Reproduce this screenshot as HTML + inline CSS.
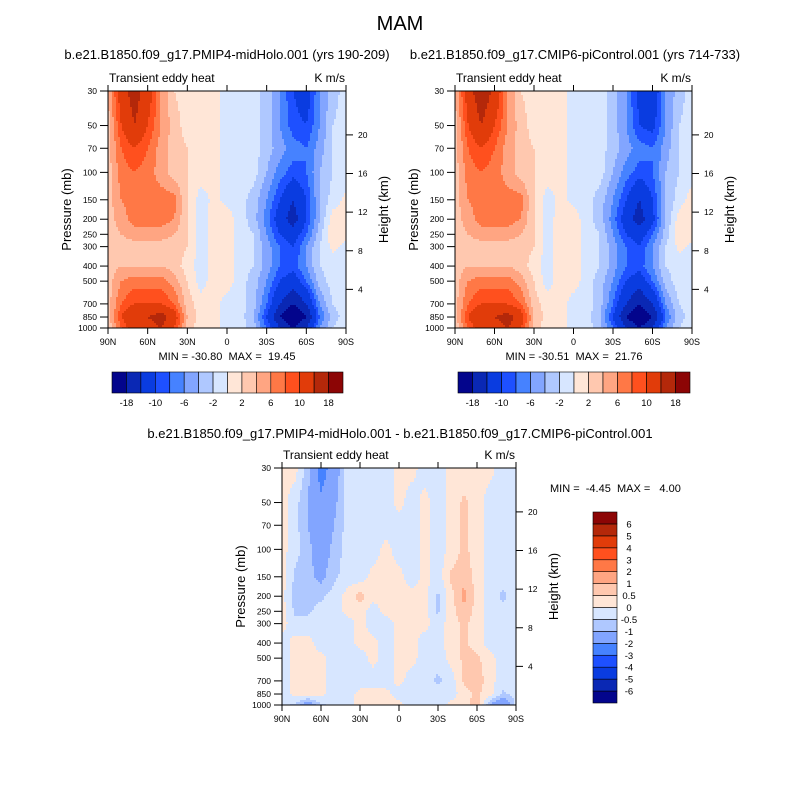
<!DOCTYPE html>
<html><head><meta charset="utf-8">
<style>
body{margin:0;background:#fff;}
svg text{font-family:"Liberation Sans",sans-serif;fill:#000;white-space:pre;}
</style></head>
<body>
<svg id="chart" width="800" height="800" viewBox="0 0 800 800">
<text x="400" y="30" font-size="20" text-anchor="middle">MAM</text>
</svg>
<script>
// ---------- data ----------
const lats = [90,80,70,60,50,40,30,20,10,0,-10,-20,-30,-40,-50,-60,-70,-80,-90];
const pressures = [30,50,70,100,150,200,250,300,400,500,700,850,1000];
const levelsTop = [-18,-14,-10,-8,-6,-4,-2,0,2,4,6,8,10,14,18];
const labelsTop = ["-18","-10","-6","-2","2","6","10","18"];
const levelsDiff = [-6,-5,-4,-3,-2,-1,-0.5,0,0.5,1,2,3,4,5,6];
const labelsDiff = ["-6","-5","-4","-3","-2","-1","-0.5","0","0.5","1","2","3","4","5","6"];
const palette = ["#03058c","#0a28b4","#0a3ce0","#1e50ff","#4682ff","#82a5ff","#afc8ff","#d7e6ff","#ffe6d7","#ffc8af","#ffa582","#ff7846","#ff501e","#e13c0a","#b4280a","#8c0505"];
const latTicks = [90,60,30,0,-30,-60,-90];
const latTickLabels = ["90N","60N","30N","0","30S","60S","90S"];
const pTicks = [30,50,70,100,150,200,250,300,400,500,700,850,1000];
const zTicks = [4,8,12,16,20];

const fieldA = [
[4,12,16,12,6,2,1,1,1,-1,-1,-1,-3,-6,-10,-12,-6,-3,-1],
[3,10,14,10,6,3,1,1,1,-1,-1,-1,-3,-6,-9,-10,-6,-2,-1],
[3,8,10,8,5,3,2,1,1,-1,-1,-1,-3,-5,-7,-8,-5,-2,-1],
[3,7,8,7,5,3,2,1,1,-1,-1,-1,-4,-7,-9,-8,-4,-2,-1],
[3,6,7,7,7,7,2,-1,0.5,-0.5,-1,-3,-6,-10,-14,-10,-4,-1,0.5],
[3,5,7,7,7,6,2,-1,1,1,-1,-3,-7,-12,-16,-10,-4,1,1],
[3,4,5,5,5,4,2,-1,1,1,-1,-2,-6,-10,-12,-8,-3,2,0.5],
[2,3,3,3,3,3,2,-1,1,1,-1,-2,-5,-8,-10,-6,-2,0.5,-0.5],
[3,4,4,4,4,3,1,-1,1,1,-1,-2,-5,-8,-9,-6,-2,-1,-1],
[3,6,7,7,7,5,2,-1,1,1,-1,-3,-6,-10,-12,-8,-3,-1,-1],
[3,8,10,10,10,8,3,1,1,-1,-1,-3,-8,-14,-18,-14,-6,-2,-1],
[3,10,14,14,16,12,4,1,1,-1,-1,-4,-10,-18,-22,-18,-8,-3,-1],
[2,8,12,12,14,10,3,1,1,-1,-1,-3,-8,-14,-18,-14,-6,-2,0]];
const fieldB = [
[4,12,17,13,6,2,1,1,1,-1,-1,-1,-3,-6,-11,-13,-6,-3,-1],
[3,10,14,10,6,3,1,1,1,-1,-1,-1,-3,-6,-10,-11,-6,-2,-1],
[3,8,10,8,5,3,2,1,1,-1,-1,-1,-3,-5,-7,-8,-5,-2,-1],
[3,7,8,7,5,3,2,1,1,-1,-1,-1,-4,-7,-9,-8,-4,-2,-1],
[3,6,7,7,7,7,2,-1,0.5,-0.5,-1,-3,-6,-10,-14,-10,-4,-1,1],
[3,5,7,7,7,6,2,-1,1,1,-1,-3,-7,-12,-16,-11,-4,1,1.5],
[3,4,5,5,5,4,2,-1,1,1,-1,-2,-6,-10,-12,-8,-3,1.5,1],
[2,3,3,3,3,3,2,-1,1,1,-1,-2,-5,-8,-10,-6,-2,0.5,-0.5],
[3,4,4,4,4,3,1,-1,1,1,-1,-2,-5,-8,-9,-6,-2,-1,-1],
[3,6,7,7,7,5,2,-1,1,1,-1,-3,-6,-10,-12,-8,-3,-1,-1],
[3,8,10,10,10,8,3,1,1,-1,-1,-3,-8,-14,-18,-14,-6,-2,-1],
[3,10,14,14,16,12,4,1,1,-1,-1,-4,-10,-18,-22,-18,-8,-3,-1],
[2,8,12,12,14,10,3,1,1,-1,-1,-3,-8,-14,-18,-14,-6,-2,0]];
const fieldDiff = [
[0.2,0.2,-0.8,-2.5,-1.5,-0.3,-0.3,-0.3,-0.3,0.2,0.2,-0.3,-0.3,0.2,0.2,0.2,0.2,-0.3,-0.3],
[0.2,-0.3,-1,-1.8,-1.2,-0.3,-0.3,-0.3,-0.3,0.2,-0.3,0.2,-0.3,0.2,0.6,0.3,-0.3,-0.3,-0.3],
[0.2,-0.3,-1,-1.6,-1,-0.3,-0.3,-0.3,-0.3,-0.3,-0.3,0.2,-0.3,0.2,0.6,0.3,-0.3,-0.3,-0.3],
[0.2,-0.3,-0.8,-1.5,-0.8,-0.3,-0.3,-0.3,0.2,-0.3,-0.3,0.2,-0.3,0.2,0.6,0.3,-0.3,-0.3,-0.3],
[0.2,-0.6,-0.8,-1.2,-0.6,-0.3,-0.3,0.2,0.2,0.2,-0.3,0.2,-0.3,0.6,0.8,0.3,-0.3,-0.3,-0.3],
[0.2,-0.7,-0.6,-0.6,-0.3,0.2,0.7,0.2,0.2,0.2,0.2,0.2,-0.6,0.3,1.2,0.3,-0.3,-0.6,-0.3],
[0.2,-0.6,-0.6,-0.3,-0.3,0.2,0.3,-0.3,0.2,0.2,0.2,0.2,-0.6,0.3,0.8,0.3,-0.3,-0.3,-0.3],
[0.2,-0.3,-0.3,-0.3,-0.3,-0.3,0.2,-0.3,-0.3,0.2,0.2,0.2,-0.3,0.3,0.6,0.3,-0.3,-0.3,-0.3],
[-0.3,0.2,0.2,-0.3,-0.3,-0.3,0.2,0.2,-0.3,0.2,0.2,-0.3,-0.3,0.3,0.6,0.3,-0.3,-0.3,-0.3],
[-0.3,0.2,0.2,0.2,-0.3,-0.3,-0.3,0.2,-0.3,0.2,0.2,-0.3,-0.3,0.2,0.6,0.6,0.2,-0.3,-0.3],
[-0.3,0.2,0.2,0.2,-0.3,-0.3,-0.3,-0.3,-0.3,0.2,-0.3,-0.3,-0.6,-0.3,0.6,0.8,0.2,-0.3,-0.3],
[-0.3,0.2,0.2,0.2,-0.3,-0.3,0.2,0.2,0.2,-0.3,-0.3,-0.3,-0.3,-0.3,0.3,0.6,0.2,-0.6,-0.3],
[-0.3,-0.6,-1.5,-0.6,-0.3,-0.3,0.2,0.2,0.2,0.2,-0.3,-0.3,-0.3,0.2,0.3,0.8,-1,-2,-0.3]];

// ---------- drawing ----------
const svg = document.getElementById('chart');
const NS = 'http://www.w3.org/2000/svg';
function mk(tag, attrs, parent){const e=document.createElementNS(NS,tag);for(const k in attrs)e.setAttribute(k,attrs[k]);(parent||svg).appendChild(e);return e;}
function txt(x,y,s,size,anchor,parent,rot){const t=mk('text',{x:x,y:y,'font-size':size,'text-anchor':anchor||'start'},parent);if(rot)t.setAttribute('transform','rotate(-90 '+x+' '+y+')');t.textContent=s;return t;}
function colorFor(v,levels){let i=0;while(i<levels.length&&v>=levels[i])i++;return palette[i];}
function sample(field,lat,p){
  let c=(90-lat)/10; c=Math.max(0,Math.min(18,c));
  const lp=Math.log(p);let r=0;
  while(r<pressures.length-2&&Math.log(pressures[r+1])<lp)r++;
  let fr=(lp-Math.log(pressures[r]))/(Math.log(pressures[r+1])-Math.log(pressures[r]));fr=Math.max(0,Math.min(1,fr));
  const c0=Math.min(17,Math.floor(c)),fc=c-c0;
  const a=field[r][c0]*(1-fc)+field[r][c0+1]*fc, b=field[r+1][c0]*(1-fc)+field[r+1][c0+1]*fc;
  return a*(1-fr)+b*fr;
}
function panel(o){
  const g=mk('g',{});
  
  
  const X=lat=>o.x0+(90-lat)/180*(o.x1-o.x0);
  const Y=p=>o.y0+Math.log(p/30)/Math.log(1000/30)*(o.y1-o.y0);
  const Pinv=y=>30*Math.exp((y-o.y0)/(o.y1-o.y0)*Math.log(1000/30));
  const Linv=x=>90-(x-o.x0)/(o.x1-o.x0)*180;
  const step=2;
  const cells=mk('g',{'shape-rendering':'crispEdges'},g);
  
  
  for(let y=o.y0;y<o.y1;y+=step){
    let runStart=o.x0, runColor=null;
    for(let x=o.x0;x<o.x1;x+=step){
      const c=colorFor(sample(o.field,Linv(Math.min(x+step/2,o.x1)),Pinv(y+step/2)),o.levels);
      if(c!==runColor){
        if(runColor!==null){mk('rect',{x:runStart,y:y,width:x-runStart,height:Math.min(step,o.y1-y),fill:runColor},cells);}
        runStart=x; runColor=c;
      }
    }
    mk('rect',{x:runStart,y:y,width:o.x1-runStart,height:Math.min(step,o.y1-y),fill:runColor},cells);
  }
  mk('rect',{x:o.x0,y:o.y0,width:o.x1-o.x0,height:o.y1-o.y0,fill:'none',stroke:'#000','stroke-width':1},g);
  latTicks.forEach((l,i)=>{const x=X(l);mk('line',{x1:x,x2:x,y1:o.y1,y2:o.y1+6,stroke:'#000'},g);mk('line',{x1:x,x2:x,y1:o.y0,y2:o.y0-6,stroke:'#000'},g);
    const t=txt(x,o.y1+17,latTickLabels[i],9,'middle',g);});
  pTicks.forEach(p=>{const y=Y(p);mk('line',{x1:o.x0,x2:o.x0-8,y1:y,y2:y,stroke:'#000'},g);
    const t=txt(o.x0-11,y+3,String(p),8.5,'end',g);});
  zTicks.forEach(z=>{const y=Y(1000*Math.exp(-z/7));mk('line',{x1:o.x1,x2:o.x1+7,y1:y,y2:y,stroke:'#000'},g);
    const t=txt(o.x1+12,y+3,String(z),8.5,'start',g);});
  let t=txt(o.x0-37,(o.y0+o.y1)/2,'Pressure (mb)',13,'middle',g,true);
  t=txt(o.x1+42,(o.y0+o.y1)/2,'Height (km)',13,'middle',g,true);
  t=txt(o.x0+1,o.y0-9,'Transient eddy heat',12,'start',g);
  t=txt(o.x1-1,o.y0-9,'K m/s',12,'end',g);
  t=txt(o.tx,o.ty,o.title,13,'middle',g);
  t=txt(o.mx,o.my,o.minmax,11,o.manchor,g);
}
function hbar(x0,x1,y0,y1,levels,labels,name){
  const g=mk('g',{});
  
  
  const w=(x1-x0)/palette.length;
  palette.forEach((c,i)=>{mk('rect',{x:x0+i*w,y:y0,width:w,height:y1-y0,fill:c,stroke:'#000','stroke-width':0.6},g);});
  labels.forEach((l,j)=>{const i=levels.indexOf(parseFloat(l));const t=txt(x0+(i+1)*w,y1+13,l,9.5,'middle',g);});
}
function vbar(x0,x1,y0,y1,levels,labels,name){
  const g=mk('g',{});
  
  
  const h=(y1-y0)/palette.length;
  palette.forEach((c,i)=>{mk('rect',{x:x0,y:y1-(i+1)*h,width:x1-x0,height:h,fill:c,stroke:'#000','stroke-width':0.6},g);});
  labels.forEach((l,j)=>{const i=levels.indexOf(parseFloat(l));const t=txt(x1+12,y1-(i+1)*h+3.5,l,9.5,'middle',g);});
}
panel({name:'panel-midholo',field:fieldA,levels:levelsTop,x0:108,x1:346,y0:91,y1:328,tx:227,ty:59,title:'b.e21.B1850.f09_g17.PMIP4-midHolo.001 (yrs 190-209)',mx:227,my:360,minmax:'MIN = -30.80  MAX =  19.45',manchor:'middle'});
panel({name:'panel-picontrol',field:fieldB,levels:levelsTop,x0:455,x1:692,y0:91,y1:328,tx:575,ty:59,title:'b.e21.B1850.f09_g17.CMIP6-piControl.001 (yrs 714-733)',mx:574,my:360,minmax:'MIN = -30.51  MAX =  21.76',manchor:'middle'});
panel({name:'panel-difference',field:fieldDiff,levels:levelsDiff,x0:282,x1:516,y0:468,y1:705,tx:400,ty:438,title:'b.e21.B1850.f09_g17.PMIP4-midHolo.001 - b.e21.B1850.f09_g17.CMIP6-piControl.001',mx:550,my:492,minmax:'MIN =  -4.45  MAX =   4.00',manchor:'start'});
hbar(112,343,372,393,levelsTop,labelsTop,'colorbar-left');
hbar(458,690,372,393,levelsTop,labelsTop,'colorbar-right');
vbar(593,617,512,703,levelsDiff,labelsDiff,'colorbar-difference');
</script>
</body></html>
